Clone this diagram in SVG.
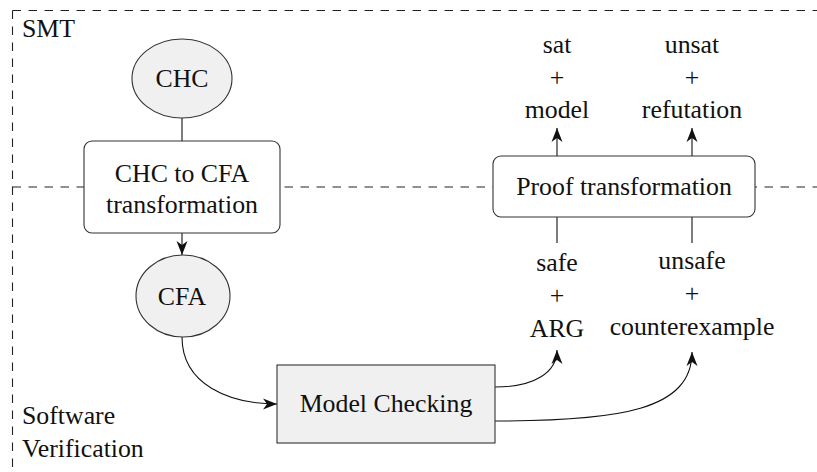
<svg xmlns="http://www.w3.org/2000/svg" width="817" height="472" viewBox="0 0 817 472" font-family="'Liberation Serif', 'Times New Roman', 'DejaVu Serif', serif">
<style>
  text { font-family: "Liberation Serif", "Times New Roman", "DejaVu Serif", serif; font-size: 25.8px; fill: #111; }
  .c { text-anchor: middle; }
  .region { fill: none; stroke: #222; stroke-width: 1.1; stroke-dasharray: 8.5 7.5; }
  .shape { stroke: #333; stroke-width: 1.1; }
  .grey { fill: #f0f0f0; }
  .white { fill: #ffffff; }
  .edge { fill: none; stroke: #111; stroke-width: 1.1; }
  .arrow { marker-end: url(#head); }
</style>
<defs>
  <marker id="head" viewBox="0 0 14 12" refX="14" refY="6" markerWidth="14" markerHeight="12" markerUnits="userSpaceOnUse" orient="auto">
    <path d="M0,0.5 L14,6 L0,11.5 L4,6 Z" fill="#111"/>
  </marker>
</defs>
<rect width="817" height="472" fill="#ffffff"/>

<g id="regions">
  <path class="region" d="M12.5,10.5 L817,10.5"/>
  <path class="region" d="M12.5,10.5 L12.5,472"/>
  <path class="region" d="M12.5,187 L817,187"/>
  <text x="22" y="37">SMT</text>
  <text x="22" y="424">Software</text>
  <text x="22" y="457">Verification</text>
</g>

<g id="connectors">
  <path class="edge" d="M182,118 L182,141"/>
  <path class="edge arrow" d="M182,233 L182,255"/>
  <path class="edge arrow" d="M182,337 C182,385 230,404 277,404"/>
  <path class="edge arrow" d="M495,387 C535,387 557,372 557,350"/>
  <path class="edge arrow" d="M495,421 C620,421 692,410 692,352"/>
  <path class="edge" d="M557,243 L557,217"/>
  <path class="edge" d="M692,243 L692,217"/>
  <path class="edge arrow" d="M557,156 L557,128"/>
  <path class="edge arrow" d="M692,156 L692,128"/>
</g>

<g id="chc">
  <ellipse class="shape grey" cx="182" cy="78.5" rx="50" ry="39.5"/>
  <text class="c" x="182" y="87">CHC</text>
</g>

<g id="chc-to-cfa">
  <rect class="shape white" x="84" y="141" width="196" height="92" rx="8"/>
  <text class="c" x="182" y="182">CHC to CFA</text>
  <text class="c" x="182" y="213">transformation</text>
</g>

<g id="cfa">
  <ellipse class="shape grey" cx="183" cy="296" rx="47" ry="41"/>
  <text class="c" x="182" y="305">CFA</text>
</g>

<g id="model-checking">
  <rect class="shape grey" x="277" y="365" width="218" height="78"/>
  <text class="c" x="386" y="412">Model Checking</text>
</g>

<g id="proof-transformation">
  <rect class="shape white" x="493" y="156" width="262" height="61" rx="8"/>
  <text class="c" x="624" y="195">Proof transformation</text>
</g>

<g id="sat-model">
  <text class="c" x="557" y="53">sat</text>
  <text class="c" x="557" y="86">+</text>
  <text class="c" x="557" y="118">model</text>
</g>

<g id="unsat-refutation">
  <text class="c" x="692" y="53">unsat</text>
  <text class="c" x="692" y="86">+</text>
  <text class="c" x="692" y="118">refutation</text>
</g>

<g id="safe-arg">
  <text class="c" x="557" y="271">safe</text>
  <text class="c" x="557" y="304">+</text>
  <text class="c" x="557" y="337">ARG</text>
</g>

<g id="unsafe-counterexample">
  <text class="c" x="692" y="269">unsafe</text>
  <text class="c" x="692" y="302">+</text>
  <text class="c" x="692" y="335">counterexample</text>
</g>
</svg>
